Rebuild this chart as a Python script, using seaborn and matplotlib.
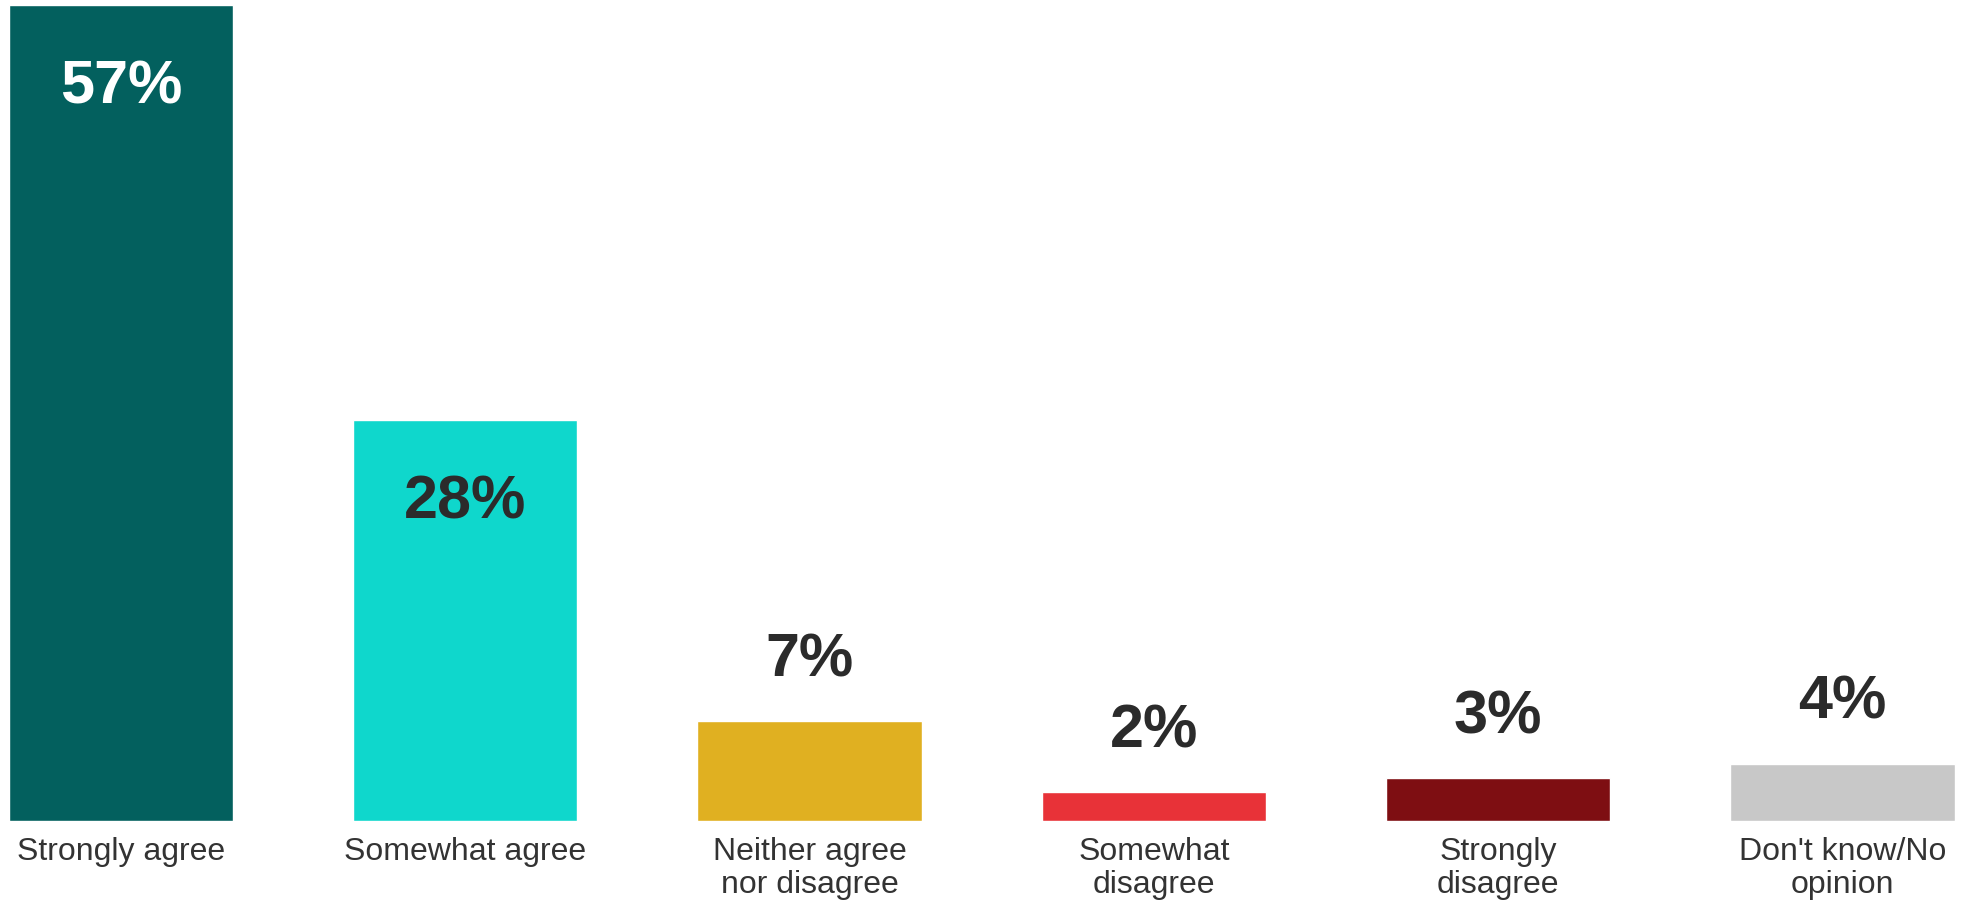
import seaborn as sns
import pandas as pd
import matplotlib.pyplot as plt

categories = ['Strongly agree', 'Somewhat agree', 'Neither agree\nnor disagree',
              'Somewhat\ndisagree', 'Strongly\ndisagree', "Don't know/No\nopinion"]
values = [57, 28, 7, 2, 3, 4]
colors = ['#03605e', '#0fd7cc', '#e0b021', '#e83238', '#7e0e12', '#c8c8c8']

df = pd.DataFrame({'cat': categories, 'pct': values})

sns.set_style('white')
plt.rcParams['font.family'] = ['Liberation Sans', 'DejaVu Sans']

fig = plt.figure(figsize=(19.62, 9.03), dpi=100)
ax = fig.add_axes([0, 81 / 903, 1, 1 - 81 / 903])
sns.barplot(data=df, x='cat', y='pct', hue='cat', palette=colors,
            legend=False, width=0.652, saturation=1, ax=ax)

ax.set_xlim(-0.351, 5.347)
ax.set_ylim(0, 57.45)
sns.despine(ax=ax, left=True, bottom=True)
ax.set_yticks([])
ax.set_xlabel('')
ax.set_ylabel('')
ax.tick_params(axis='x', length=0, pad=10.5, labelsize=23, colors='#333333')
for lab in ax.get_xticklabels():
    lab.set_linespacing(1.15)

# value labels: inside the two tall bars, above the short ones
for i, v in enumerate(values):
    if v > 20:
        col = 'white' if i == 0 else '#2b2b2b'
        ax.text(i, v - 6.8, f'{v}%', ha='center', va='baseline',
                fontsize=44, fontweight='bold', color=col)
    else:
        ax.text(i, v + 3.2, f'{v}%', ha='center', va='baseline',
                fontsize=44, fontweight='bold', color='#2b2b2b')

plt.savefig('out.png', dpi=100)
